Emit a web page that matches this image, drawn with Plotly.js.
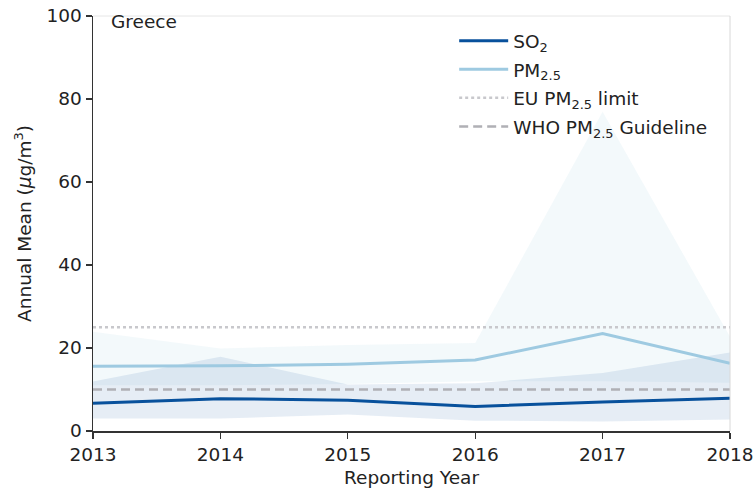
<!DOCTYPE html>
<html>
<head>
<meta charset="utf-8">
<script src="https://cdn.plot.ly/plotly-3.0.1.min.js"></script>
<style>
  html, body { margin: 0; padding: 0; background: #fff; }
  #chart { width: 756px; height: 488px; }
</style>
</head>
<body>
<div id="chart"></div>
<script>
// Annual mean concentrations for Greece, by reporting year
const years = [2013, 2014, 2015, 2016, 2017, 2018];

// SO2: mean with min/max range across stations
const so2Mean = [6.7, 7.8, 7.4, 5.9, 7.0, 7.9];
const so2Low  = [3.0, 3.0, 4.0, 2.5, 2.3, 2.8];
const so2High = [11.9, 17.9, 11.2, 11.5, 14.0, 18.9];

// PM2.5: mean with min/max range across stations
const pmMean = [15.6, 15.7, 16.1, 17.1, 23.5, 16.3];
const pmLow  = [11.0, 11.0, 11.3, 12.0, 12.0, 11.6];
const pmHigh = [23.9, 19.9, 20.7, 21.2, 76.9, 22.7];

// Reference thresholds
const euLimit = 25;
const whoGuideline = 10;

const SO2_COLOR = '#08519c';
const PM_COLOR = '#9ecae1';
const FONT = 'DejaVu Sans, sans-serif';

// closed polygon for a shaded range between two series
function band(low, high, color) {
  return {
    x: years.concat(years.slice().reverse()),
    y: high.concat(low.slice().reverse()),
    type: 'scatter', mode: 'lines', fill: 'toself',
    fillcolor: color, line: {width: 0}, hoverinfo: 'skip', showlegend: false
  };
}

const first = years[0], last = years[years.length - 1];

const traces = [
  band(pmLow, pmHigh, 'rgba(158,202,225,0.12)'),
  band(so2Low, so2High, 'rgba(8,81,156,0.10)'),
  {
    x: [first, last], y: [euLimit, euLimit], type: 'scatter', mode: 'lines',
    name: 'EU PM<sub>2.5</sub> limit', legendrank: 3, legendgroup: 'eu',
    line: {color: '#c8c8cc', width: 2.5, dash: 'dot'}
  },
  {
    x: [first, last], y: [whoGuideline, whoGuideline], type: 'scatter', mode: 'lines',
    name: 'WHO PM<sub>2.5</sub> Guideline', legendrank: 4, legendgroup: 'who',
    line: {color: '#b0b0b5', width: 2.5, dash: '9px,5px'}
  },
  {
    x: years, y: so2Mean, type: 'scatter', mode: 'lines',
    name: 'SO<sub>2</sub>', legendrank: 1, legendgroup: 'so2',
    line: {color: SO2_COLOR, width: 3}
  },
  {
    x: years, y: pmMean, type: 'scatter', mode: 'lines',
    name: 'PM<sub>2.5</sub>', legendrank: 2, legendgroup: 'pm',
    line: {color: PM_COLOR, width: 3}
  }
];

const layout = {
  width: 756, height: 488,
  margin: {l: 93, r: 26, t: 16, b: 57},
  paper_bgcolor: '#fff', plot_bgcolor: '#fff',
  font: {family: FONT, size: 18.5, color: '#222'},
  showlegend: true,
  legend: {
    x: 0.567, y: 0.985, xanchor: 'left', yanchor: 'top',
    bgcolor: 'rgba(0,0,0,0)', borderwidth: 0,
    font: {family: FONT, size: 18.5, color: '#222'},
    itemwidth: 49, tracegroupgap: 1.5
  },
  xaxis: {
    range: [first, last], tickvals: years, ticktext: years.map(String),
    showgrid: false, zeroline: false,
    showline: true, linecolor: '#333', linewidth: 1.5,
    ticks: 'outside', ticklen: 6, tickwidth: 1.4, tickcolor: '#333',
    title: {text: 'Reporting Year', font: {family: FONT, size: 18.5}, standoff: 7}
  },
  yaxis: {
    range: [0, 100], tickvals: [0, 20, 40, 60, 80, 100],
    showgrid: false, zeroline: false,
    showline: true, linecolor: '#333', linewidth: 1.5,
    ticks: 'outside', ticklen: 6, tickwidth: 1.4, tickcolor: '#333',
    title: {text: 'Annual Mean (<i>μ</i>g/m<sup>3</sup>)', font: {family: FONT, size: 18.5}, standoff: 10}
  },
  shapes: [
    // faint top and right frame
    {type: 'line', xref: 'paper', yref: 'paper', x0: 0, x1: 1, y0: 1, y1: 1,
     line: {color: '#e6e6e6', width: 1}},
    {type: 'line', xref: 'paper', yref: 'paper', x0: 1, x1: 1, y0: 0, y1: 1,
     line: {color: '#d8d8d8', width: 1}}
  ],
  annotations: [
    {text: 'Greece', xref: 'paper', yref: 'paper', x: 0.025, y: 1.018,
     xanchor: 'left', yanchor: 'top', showarrow: false,
     font: {family: FONT, size: 18.5, color: '#222'}}
  ]
};

Plotly.newPlot('chart', traces, layout, {displayModeBar: false, staticPlot: true});
</script>
</body>
</html>
